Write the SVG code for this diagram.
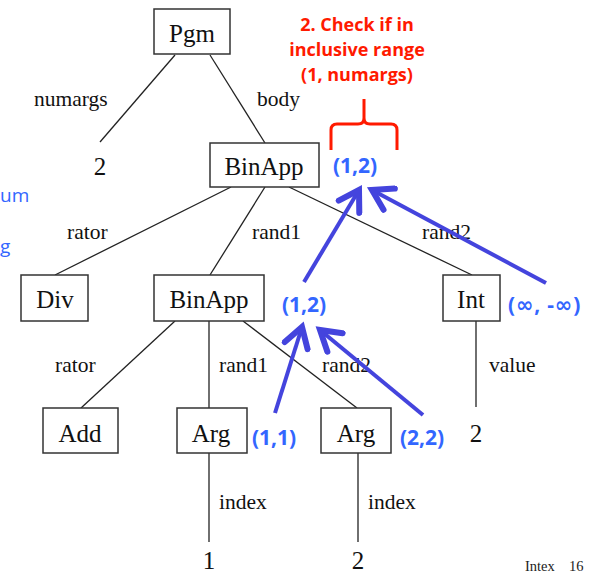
<svg xmlns="http://www.w3.org/2000/svg" width="599" height="576" viewBox="0 0 599 576">
<defs>
<style>
.box{fill:#fff;stroke:#333;stroke-width:1.5}
.nt{font-family:"Liberation Serif",serif;font-size:25px;fill:#111;text-anchor:middle}
.el{font-family:"Liberation Serif",serif;font-size:21.5px;fill:#111}
.edge{stroke:#222;stroke-width:1.3;fill:none}
.bl{font-family:"Open Sans","Liberation Sans",sans-serif;font-weight:bold;font-size:21px;fill:#3366ff}
.inf{font-family:"DejaVu Sans",sans-serif;font-weight:bold}
.rd{font-family:"Open Sans","Liberation Sans",sans-serif;font-weight:bold;font-size:18px;fill:#ff1a00;text-anchor:middle}
.arr{stroke:#4444dd;stroke-width:4;fill:none;marker-end:url(#ah)}
.side{font-family:"Open Sans","Liberation Sans",sans-serif;font-size:19px;fill:#3366ff}
</style>
<marker id="ah" markerUnits="userSpaceOnUse" markerWidth="30" markerHeight="30" refX="16" refY="10" orient="auto" viewBox="0 0 20 20">
<polyline points="3,2 16,10 3,18" fill="none" stroke="#4444dd" stroke-width="4" stroke-linecap="round"/>
</marker>
</defs>
<g id="connectors">
<line class="edge" x1="175" y1="55" x2="100" y2="142"/>
<line class="edge" x1="210" y1="55" x2="265" y2="143"/>
<line class="edge" x1="231" y1="187" x2="55" y2="275"/>
<line class="edge" x1="265" y1="187" x2="210" y2="275"/>
<line class="edge" x1="289" y1="187" x2="472" y2="275"/>
<line class="edge" x1="476" y1="321" x2="476" y2="407"/>
<line class="edge" x1="175" y1="321" x2="81" y2="408"/>
<line class="edge" x1="209" y1="321" x2="209" y2="408"/>
<line class="edge" x1="243" y1="321" x2="357" y2="408"/>
<line class="edge" x1="209" y1="453" x2="209" y2="542"/>
<line class="edge" x1="358" y1="453" x2="358" y2="542"/>
<text class="el" x="34" y="106">numargs</text>
<text class="el" x="257" y="106">body</text>
<text class="el" x="67" y="239">rator</text>
<text class="el" x="252" y="239">rand1</text>
<text class="el" x="422" y="239">rand2</text>
<text class="el" x="55" y="372">rator</text>
<text class="el" x="219" y="372">rand1</text>
<text class="el" x="322" y="372">rand2</text>
<text class="el" x="489" y="372">value</text>
<text class="el" x="219" y="509">index</text>
<text class="el" x="368" y="509">index</text>
</g>
<g id="pgm"><rect class="box" x="154" y="9" width="76" height="45"/><text class="nt" x="192" y="42">Pgm</text></g>
<g id="num2"><text class="nt" x="100" y="175">2</text></g>
<g id="binapp1"><rect class="box" x="210" y="143" width="109" height="44"/><text class="nt" x="264" y="175">BinApp</text></g>
<g id="div"><rect class="box" x="21" y="275" width="67" height="46"/><text class="nt" x="55" y="308">Div</text></g>
<g id="binapp2"><rect class="box" x="154" y="275" width="110" height="46"/><text class="nt" x="209" y="308">BinApp</text></g>
<g id="int"><rect class="box" x="443" y="275" width="57" height="46"/><text class="nt" x="471" y="308">Int</text></g>
<g id="int2"><text class="nt" x="476" y="442">2</text></g>
<g id="add"><rect class="box" x="43" y="408" width="75" height="45"/><text class="nt" x="80" y="442">Add</text></g>
<g id="arg1"><rect class="box" x="177" y="408" width="70" height="45"/><text class="nt" x="211" y="442">Arg</text></g>
<g id="arg2"><rect class="box" x="321" y="408" width="70" height="45"/><text class="nt" x="356" y="442">Arg</text></g>
<g id="idx1"><text class="nt" x="209" y="569">1</text></g>
<g id="idx2"><text class="nt" x="358" y="569">2</text></g>
<g id="annotations">
<text class="rd" x="357" y="31">2. Check if in</text>
<text class="rd" x="357" y="56">inclusive range</text>
<text class="rd" x="357" y="81">(1, numargs)</text>
<path d="M331,150 V130 Q331,124 337,124 H358 Q364,124 364,118 V99 V118 Q364,124 370,124 H391 Q397,124 397,130 V150" fill="none" stroke="#ff1a00" stroke-width="3"/>
<text class="bl" x="333" y="173">(1,2)</text>
<text class="bl" x="282" y="312">(1,2)</text>
<text class="bl" x="508" y="312" letter-spacing="0.8">(<tspan class="inf">∞</tspan>, -<tspan class="inf">∞</tspan>)</text>
<text class="bl" x="252" y="445">(1,1)</text>
<text class="bl" x="400" y="445">(2,2)</text>
<line class="arr" x1="275" y1="413" x2="302" y2="327"/>
<line class="arr" x1="423" y1="415" x2="320" y2="330"/>
<line class="arr" x1="304" y1="282" x2="359" y2="190"/>
<line class="arr" x1="546" y1="283" x2="372" y2="190"/>
<text class="side" x="0" y="202">um</text>
<text class="side" x="0" y="253">g</text>
<text y="571" font-family="Liberation Serif,serif" font-size="14.5" fill="#222"><tspan x="525">Intex</tspan><tspan x="569">16</tspan></text>
</g>
</svg>
